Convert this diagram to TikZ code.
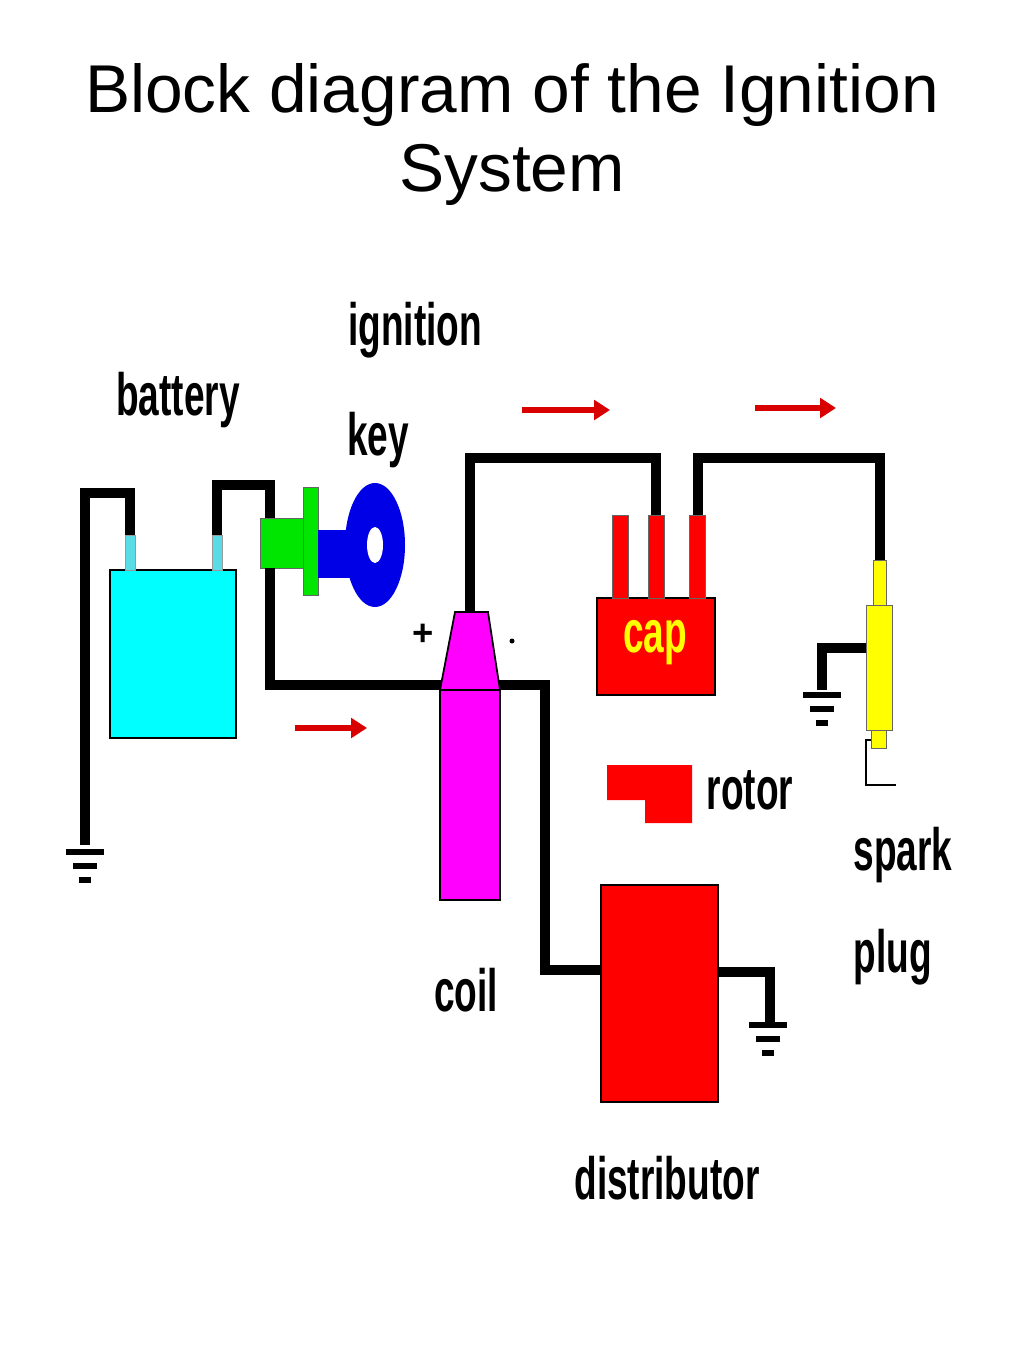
\documentclass[tikz,border=0pt]{standalone}
\usepackage{fontspec}
\setmainfont{Liberation Sans}
\definecolor{battcyan}{RGB}{0,255,255}
\definecolor{postcyan}{RGB}{90,220,230}
\definecolor{coilpink}{RGB}{255,0,255}
\definecolor{keygreen}{RGB}{0,230,0}
\definecolor{keyblue}{RGB}{0,0,230}
\definecolor{plugyellow}{RGB}{255,255,0}
\tikzset{
  wire/.style={line width=5.5pt,line join=miter},
  part/.style={draw=black,line width=1pt},
  lbl/.style={font=\fontsize{34}{34}\selectfont\bfseries,xscale=0.62,inner sep=0pt},
  flow/.style={red!85!black,line width=3pt,-{Triangle[length=9pt,width=11pt]}},
  gnd/.pic={
    \draw[line width=3.5pt] (-19,0) -- (19,0);
    \draw[line width=3.5pt] (-12,14) -- (12,14);
    \draw[line width=3.5pt] (-6,28) -- (6,28);
  }
}
\usetikzlibrary{arrows.meta}
\begin{document}
\begin{tikzpicture}[x=0.02cm,y=-0.02cm]
  \useasboundingbox[fill=white] (0,0) rectangle (1024,1366);

  \node[font=\fontsize{38.5}{38.5}\selectfont] (title1) at (512,95) {Block diagram of the Ignition};
  \node[font=\fontsize{38.5}{38.5}\selectfont] (title2) at (512,175) {System};

  % battery
  \filldraw[part,fill=battcyan] (110,570) rectangle (236,738);
  \filldraw[fill=postcyan,draw=black!40] (125,535) rectangle (135,570);
  \filldraw[fill=postcyan,draw=black!40] (212,535) rectangle (222,570);
  \draw[wire] (130,535) |- (85,493) -- (85,845);
  \pic at (85,852) {gnd};
  \draw[wire] (217,535) |- (270,485) -- (270,518);

  % ignition key
  \filldraw[draw=black!60,fill=keygreen] (260,518) rectangle (305,568);
  \filldraw[draw=black!60,fill=keygreen] (303,487) rectangle (318,595);
  \fill[keyblue] (318,530) rectangle (352,578);
  \fill[keyblue] (375,545) ellipse (30 and 62);
  \fill[white] (375,545) ellipse (8 and 18);

  % coil wiring
  \draw[wire] (270,568) |- (545,685) |- (601,970);
  \draw[wire] (470,612) |- (656,458) -- (656,515);
  \draw[wire] (698,515) |- (880,458) -- (880,560);

  % coil
  \filldraw[part,fill=coilpink] (455,612) -- (488,612) -- (500,690) -- (500,900)
    -- (440,900) -- (440,690) -- cycle;
  \draw[line width=1pt] (440,690) -- (500,690);
  \node[font=\bfseries\huge] (plus) at (423,635) {+};
  \fill (512,641) circle (2.5);

  % cap
  \filldraw[part,fill=red] (597,598) rectangle (715,695);
  \foreach \px in {620,656,697}
    \filldraw[draw=black!60,fill=red] (\px-8,515) rectangle (\px+8,598);
  \node[lbl,plugyellow] (cap) at (655,643) {cap};

  % rotor
  \fill[red] (607,765) -- (692,765) -- (692,823) -- (645,823) -- (645,800) -- (607,800) -- cycle;
  \node[lbl] (rotor) at (750,790) {rotor};

  % spark plug
  \draw[line width=1.2pt] (878,740) -- (866,740) -- (866,785) -- (896,785);
  \filldraw[draw=black!60,fill=plugyellow] (873,560) rectangle (886,605);
  \filldraw[draw=black!60,fill=plugyellow] (866,605) rectangle (892,730);
  \filldraw[draw=black!60,fill=plugyellow] (871,730) rectangle (886,748);
  \draw[wire] (866,648) -| (822,690);
  \pic at (822,695) {gnd};

  % distributor
  \filldraw[part,fill=red] (601,885) rectangle (718,1102);
  \draw[wire] (718,972) -| (770,1022);
  \pic at (768,1025) {gnd};

  % flow arrows
  \draw[flow] (295,728) -- (367,728);
  \draw[flow] (522,410) -- (610,410);
  \draw[flow] (755,408) -- (836,408);

  % labels
  \node[lbl] (battery) at (178,400) {battery};
  \node[lbl] (ignition) at (415,330) {ignition};
  \node[lbl] (key) at (378,440) {key};
  \node[lbl] (spark) at (903,855) {spark};
  \node[lbl] (plug) at (893,957) {plug};
  \node[lbl] (coil) at (466,990) {coil};
  \node[lbl] (distributor) at (667,1178) {distributor};
\end{tikzpicture}
\end{document}
